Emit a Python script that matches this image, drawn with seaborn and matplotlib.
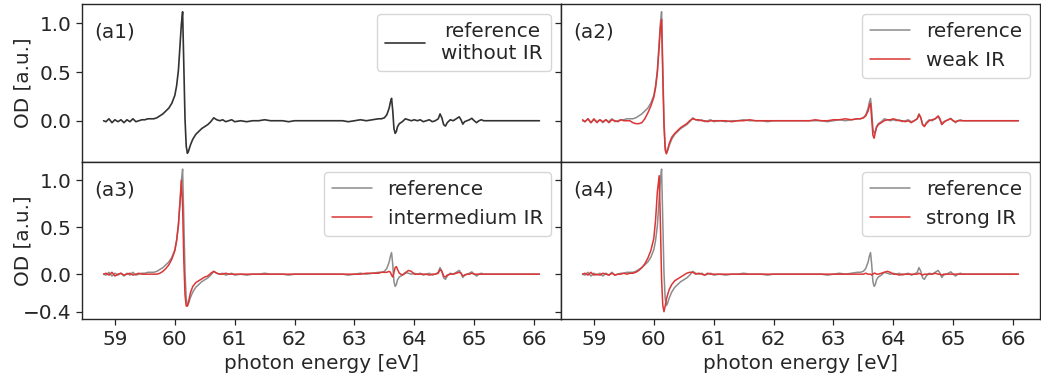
import matplotlib
matplotlib.use("Agg")
import matplotlib.pyplot as plt
import seaborn as sns
import pandas as pd

# ---------------- data ----------------
energy_pre = [58.81, 58.85, 58.90, 58.95, 59.00, 59.05, 59.10, 59.15, 59.20, 59.25,
              59.30, 59.35, 59.40, 59.45, 59.50, 59.55, 59.60, 59.65, 59.70]
energy_edge = [59.75, 59.80, 59.85, 59.90, 59.95, 60.00, 60.03, 60.06, 60.09, 60.11,
               60.13, 60.15, 60.17, 60.19, 60.21, 60.23, 60.26, 60.30, 60.35, 60.40,
               60.45, 60.50, 60.55, 60.60, 60.65, 60.70, 60.75, 60.80, 60.85, 60.90,
               60.95, 61.00]
energy_flat = [61.1, 61.2, 61.3, 61.4, 61.5, 61.6, 61.7, 61.8, 61.9, 62.0, 62.1, 62.2,
               62.3, 62.4, 62.5, 62.6, 62.7, 62.8, 62.9, 63.0, 63.1, 63.2, 63.3, 63.4]
energy_f2 = [63.45, 63.50, 63.54, 63.58, 63.60, 63.62, 63.64, 63.66, 63.68, 63.70,
             63.72, 63.75, 63.80, 63.85, 63.90, 63.95, 64.00, 64.05, 64.10, 64.15,
             64.20, 64.25, 64.30, 64.35]
energy_f3 = [64.40, 64.43, 64.46, 64.49, 64.52, 64.55, 64.60, 64.65, 64.70, 64.75,
             64.78, 64.81, 64.84, 64.88, 64.92, 64.96, 65.00, 65.04, 65.08, 65.12,
             65.16, 65.20]
energy_tail = [65.3, 65.4, 65.5, 65.6, 65.7, 65.8, 65.9, 66.0, 66.09]

ref_pre = [0.00, -0.01, 0.02, -0.02, 0.01, -0.01, 0.01, -0.02, 0.01, -0.01,
           0.02, -0.01, 0.00, 0.01, 0.01, 0.02, 0.02, 0.02, 0.03]
ref_edge = [0.05, 0.07, 0.10, 0.13, 0.18, 0.26, 0.36, 0.52, 0.80, 1.00,
            1.12, 0.55, 0.02, -0.26, -0.335, -0.31, -0.25, -0.19, -0.14, -0.11,
            -0.08, -0.06, -0.04, -0.01, 0.03, 0.01, 0.00, 0.01, -0.01, 0.00,
            0.01, -0.01]
ref_flat = [0.00, -0.01, 0.00, 0.00, 0.01, 0.00, 0.00, 0.00, -0.01, 0.00, 0.00, 0.00,
            0.00, 0.00, 0.00, 0.00, 0.00, 0.00, -0.01, 0.00, 0.01, 0.00, 0.01, 0.02]
ref_f2 = [0.02, 0.03, 0.06, 0.13, 0.19, 0.23, 0.10, -0.08, -0.13, -0.11,
          -0.06, -0.03, -0.01, 0.02, 0.01, 0.00, 0.01, 0.00, 0.01, -0.01,
          0.00, 0.01, -0.01, 0.00]
ref_f3 = [0.02, 0.07, 0.03, -0.04, -0.055, -0.02, 0.01, 0.00, 0.02, 0.04,
          0.01, -0.035, -0.01, 0.00, 0.01, 0.025, 0.00, -0.02, 0.00, 0.01,
          0.00, 0.00]
ref_tail = [0.00, 0.00, 0.00, 0.00, 0.00, 0.00, 0.00, 0.00, 0.00]

weak_pre = [0.01, -0.01, 0.02, -0.02, 0.02, -0.02, 0.01, -0.01, 0.01, -0.02,
            0.01, 0.00, -0.01, 0.01, 0.00, 0.00, 0.00, -0.02, -0.03]
weak_edge = [-0.03, -0.02, 0.02, 0.08, 0.15, 0.24, 0.34, 0.50, 0.76, 0.96,
             1.04, 0.45, -0.05, -0.30, -0.34, -0.30, -0.23, -0.17, -0.13, -0.10,
             -0.07, -0.05, -0.03, 0.00, 0.02, 0.01, 0.01, 0.00, 0.00, -0.01,
             0.00, 0.00]
weak_flat = [0.00, 0.00, -0.01, 0.00, 0.00, 0.01, 0.00, 0.00, 0.00, 0.00, 0.00, 0.00,
             0.00, 0.00, 0.00, 0.00, 0.01, 0.00, 0.00, 0.01, 0.01, 0.02, 0.01, 0.02]
weak_f2 = [0.02, 0.03, 0.05, 0.10, 0.15, 0.18, 0.02, -0.15, -0.18, -0.12,
           -0.07, -0.04, -0.02, 0.00, 0.01, 0.01, 0.02, 0.01, 0.00, 0.00,
           -0.01, 0.00, -0.02, 0.00]
weak_f3 = [0.02, 0.065, 0.03, -0.04, -0.06, -0.03, 0.00, 0.01, 0.02, 0.05,
           0.02, -0.04, -0.02, 0.00, 0.01, 0.02, 0.00, -0.01, 0.00, 0.00,
           0.00, 0.00]
weak_tail = [0.00, 0.00, 0.00, 0.00, 0.00, 0.00, 0.00, 0.00, 0.00]

inter_pre = [0.00, 0.01, -0.01, 0.02, -0.02, 0.00, 0.01, -0.01, 0.00, 0.01,
             -0.01, 0.00, 0.01, 0.00, 0.00, 0.00, 0.00, 0.00, 0.00]
inter_edge = [0.01, 0.03, 0.06, 0.10, 0.16, 0.25, 0.36, 0.53, 0.80, 1.00,
              0.72, 0.15, -0.22, -0.34, -0.34, -0.29, -0.20, -0.13, -0.09, -0.07,
              -0.05, -0.03, -0.02, 0.01, 0.03, 0.01, 0.00, 0.00, 0.01, 0.00,
              0.00, 0.00]
inter_flat = [0.00, 0.00, 0.00, 0.00, 0.00, 0.00, 0.00, 0.00, 0.00, 0.00, 0.00, 0.00,
              0.00, 0.00, 0.00, 0.00, 0.00, 0.00, 0.00, 0.00, 0.00, 0.01, 0.01, 0.01]
inter_f2 = [0.02, 0.02, 0.02, 0.03, 0.02, -0.01, -0.03, 0.02, 0.07, 0.08,
            0.05, 0.01, -0.01, 0.01, 0.04, 0.03, 0.00, 0.00, 0.00, 0.00,
            0.00, -0.01, 0.00, 0.00]
inter_f3 = [0.01, 0.05, 0.03, -0.02, -0.03, -0.01, 0.00, 0.00, 0.01, 0.02,
            0.01, -0.02, -0.01, 0.00, 0.00, 0.01, 0.00, 0.00, 0.00, 0.00,
            0.00, 0.00]
inter_tail = [0.00, 0.00, 0.00, 0.00, 0.00, 0.00, 0.00, 0.00, 0.00]

strong_pre = [0.00, 0.01, -0.01, 0.02, -0.01, 0.00, -0.01, 0.01, 0.00, -0.01,
              0.01, -0.01, 0.00, 0.00, 0.01, 0.00, 0.01, 0.01, 0.02]
strong_edge = [0.04, 0.07, 0.11, 0.17, 0.25, 0.38, 0.58, 0.88, 1.05, 0.55,
               -0.05, -0.33, -0.40, -0.34, -0.27, -0.22, -0.16, -0.11, -0.07, -0.05,
               -0.03, -0.01, 0.01, 0.02, 0.02, 0.00, 0.01, 0.00, -0.01, 0.01,
               0.00, 0.00]
strong_flat = [0.00, 0.00, 0.00, 0.00, 0.00, 0.00, 0.00, 0.00, 0.00, 0.00, 0.00, 0.00,
               0.00, 0.00, 0.00, 0.00, 0.00, 0.00, 0.00, 0.00, 0.00, 0.00, 0.00, 0.00]
strong_f2 = [0.00, 0.00, 0.01, 0.00, 0.00, 0.00, -0.01, 0.00, 0.01, 0.01,
             0.00, 0.00, 0.01, 0.02, 0.03, 0.02, 0.00, 0.00, -0.01, 0.00,
             0.00, 0.00, 0.00, 0.00]
strong_f3 = [0.00, 0.01, 0.00, -0.01, 0.00, 0.00, 0.00, 0.00, 0.01, 0.00,
             0.00, -0.01, 0.00, 0.00, 0.00, 0.00, 0.00, 0.00, 0.00, 0.00,
             0.00, 0.00]
strong_tail = [0.00, 0.00, 0.00, 0.00, 0.00, 0.00, 0.00, 0.00, 0.00]

energy = energy_pre + energy_edge + energy_flat + energy_f2 + energy_f3 + energy_tail
reference = ref_pre + ref_edge + ref_flat + ref_f2 + ref_f3 + ref_tail
weak = weak_pre + weak_edge + weak_flat + weak_f2 + weak_f3 + weak_tail
intermedium = inter_pre + inter_edge + inter_flat + inter_f2 + inter_f3 + inter_tail
strong = strong_pre + strong_edge + strong_flat + strong_f2 + strong_f3 + strong_tail

x_ticks = [59, 60, 61, 62, 63, 64, 65, 66]
y_ticks_top = [0.0, 0.5, 1.0]
y_ticks_bottom = [-0.4, 0.0, 0.5, 1.0]
panel_tags = ["(a1)", "(a2)", "(a3)", "(a4)"]
series_labels = ["weak IR", "intermedium IR", "strong IR"]

df = pd.DataFrame({"energy": energy, "reference": reference, "weak": weak,
                   "intermedium": intermedium, "strong": strong})

# ---------------- figure ----------------
FS = 14.4
sns.set_theme(style="ticks", rc={
    "axes.edgecolor": "0.15", "axes.linewidth": 1.0,
    "xtick.major.size": 4, "ytick.major.size": 4,
    "xtick.major.width": 0.9, "ytick.major.width": 0.9,
    "xtick.labelsize": FS, "ytick.labelsize": FS,
    "axes.labelsize": FS, "legend.fontsize": FS,
})
plt.rcParams["font.family"] = ["DejaVu Sans"]

fig, axes = plt.subplots(2, 2, figsize=(10.41, 3.8), dpi=100, sharex=True, sharey="row")
fig.subplots_adjust(left=0.0788, right=0.999, top=0.9895, bottom=0.16,
                    wspace=0.0, hspace=0.0)

ref_gray = "0.55"
red = "#dc3535"

ax = axes[0, 0]
sns.lineplot(data=df, x="energy", y="reference", ax=ax, color="0.2", lw=1.2,
             label="reference\nwithout IR")
others = [(axes[0, 1], "weak", series_labels[0]),
          (axes[1, 0], "intermedium", series_labels[1]),
          (axes[1, 1], "strong", series_labels[2])]
for a, col, lab in others:
    sns.lineplot(data=df, x="energy", y="reference", ax=a, color=ref_gray, lw=1.1,
                 label="reference")
    sns.lineplot(data=df, x="energy", y=col, ax=a, color=red, lw=1.1, label=lab)

for i, a in enumerate(axes.flat):
    leg = a.legend(loc="upper right", fontsize=FS, frameon=True)
    if i == 0:
        for t in leg.get_texts():
            t.set_multialignment("center")
    a.text(0.025, 0.82, panel_tags[i], transform=a.transAxes, fontsize=FS,
           ha="left", va="center", color="0.15")
    a.set_xticks(x_ticks)
    a.set_xlim(58.45, 66.45)
    a.set_xlabel("")
    a.set_ylabel("")

axes[0, 0].set_ylim(-0.42, 1.2)
axes[0, 0].set_yticks(y_ticks_top)
axes[1, 0].set_ylim(-0.48, 1.2)
axes[1, 0].set_yticks(y_ticks_bottom)

for a in (axes[0, 0], axes[1, 0]):
    a.set_ylabel("OD [a.u.]")
    a.yaxis.set_label_coords(-0.104, 0.5)
axes[1, 0].set_xlabel("photon energy [eV]")
axes[1, 1].set_xlabel("photon energy [eV]")

fig.savefig("out.png", dpi=100)
